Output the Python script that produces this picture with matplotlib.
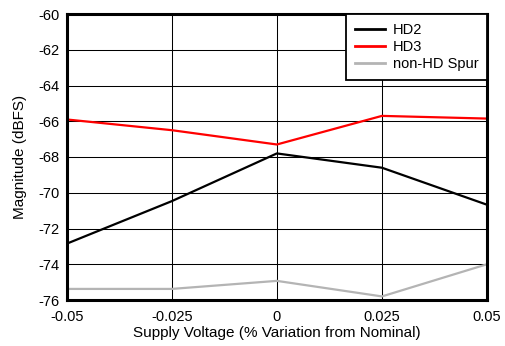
import matplotlib
matplotlib.use("Agg")
import matplotlib.pyplot as plt

plt.rcParams['font.family'] = ['Liberation Sans', 'DejaVu Sans']
plt.rcParams['axes.unicode_minus'] = False

x = [-0.05, -0.025, 0, 0.025, 0.05]
hd2 = [-72.85, -70.47, -67.8, -68.6, -70.67]
hd3 = [-65.9, -66.5, -67.3, -65.7, -65.85]
spur = [-75.38, -75.38, -74.93, -75.8, -74.0]
xticks = [-0.05, -0.025, 0, 0.025, 0.05]
xticklabels = ['-0.05', '-0.025', '0', '0.025', '0.05']
yticks = list(range(-76, -59, 2))

W, H = 505, 346
fig = plt.figure(figsize=(W/100, H/100), dpi=100)
L, R, T, B = 66.7, 487, 14, 300
ax = fig.add_axes([L/W, 1-B/H, (R-L)/W, (B-T)/H])

ax.plot(x, hd2, color='black', lw=1.6, label='HD2')
ax.plot(x, hd3, color='#ff0000', lw=1.6, label='HD3')
ax.plot(x, spur, color='#b4b4b4', lw=1.6, label='non-HD Spur')

ax.set_xlim(-0.05, 0.05)
ax.set_ylim(-76, -60)
ax.set_xticks(xticks)
ax.set_xticklabels(xticklabels)
ax.set_yticks(yticks)
ax.grid(True, color='black', lw=0.75)
ax.tick_params(labelsize=10.5, length=0)
ax.tick_params(axis='y', pad=5)
ax.tick_params(axis='x', pad=7)
for s in ax.spines.values():
    s.set_linewidth(2.2)
ax.set_xlabel('Supply Voltage (% Variation from Nominal)', fontsize=11, labelpad=2)
ax.set_ylabel('Magnitude (dBFS)', fontsize=11, labelpad=8)

leg = ax.legend(loc='upper right', fontsize=10.5, fancybox=False, framealpha=1,
                edgecolor='black', borderaxespad=0, handlelength=2.1,
                handletextpad=0.5, labelspacing=0.22, borderpad=0.6)
leg.get_frame().set_linewidth(1.3)
for line in leg.get_lines():
    line.set_linewidth(2)

fig.savefig('out.png', dpi=100)
